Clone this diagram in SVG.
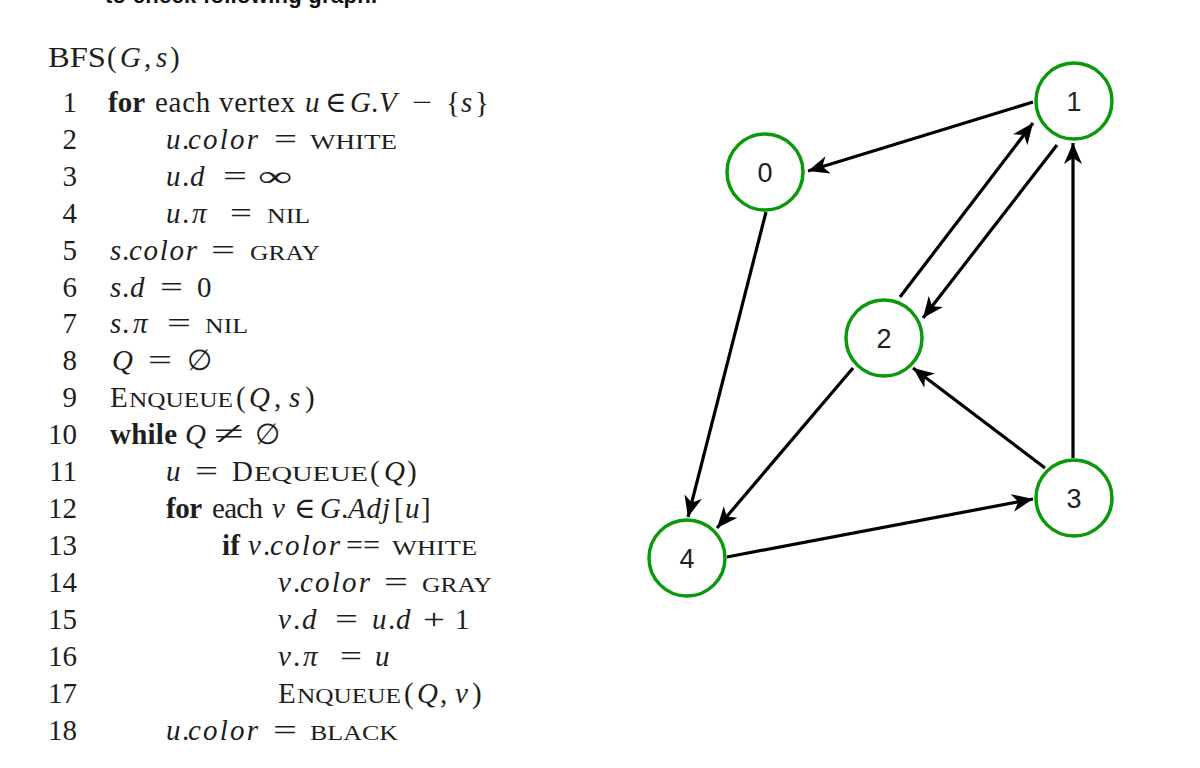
<svg xmlns="http://www.w3.org/2000/svg" width="1200" height="768" viewBox="0 0 1200 768">
<style>
.c{font-family:"Liberation Serif","DejaVu Serif",serif;font-size:29px;fill:#1e1e1e}
.n{text-anchor:end}
.i{font-style:italic}
.b{font-weight:bold}
.s{font-size:22px}
.node circle{fill:#fff;stroke:#0a990a;stroke-width:3.5}
.node text{font-family:"Liberation Sans",Arial,sans-serif;font-size:27px;fill:#222;text-anchor:middle}
.edges line{stroke:#000;stroke-width:3.2;marker-end:url(#arr)}
</style>
<defs>
<marker id="arr" markerUnits="userSpaceOnUse" markerWidth="22" markerHeight="20" refX="21" refY="10" orient="auto">
<path d="M0,1 L21,10 L0,19 L6,10 Z" fill="#000"/>
</marker>
</defs>
<rect width="1200" height="768" fill="#fff"/>
<text x="105" y="3" textLength="272" style="font-family:'Liberation Sans',Arial,sans-serif;font-size:22px;font-weight:bold;fill:#111">to check following graph.</text>

<g id="pseudocode">
<text class="c" x="48" y="67" textLength="58" lengthAdjust="spacingAndGlyphs">BFS</text>
<text class="c" x="107" y="67">(</text>
<text class="c i" x="120" y="67">G</text>
<text class="c" x="144" y="67">,</text>
<text class="c i" x="156" y="67">s</text>
<text class="c" x="170" y="67">)</text>

<text class="c n" x="77" y="112">1</text>
<text class="c b" x="108" y="112" textLength="37">for</text>
<text class="c" x="155" y="112" textLength="140">each vertex</text>
<text class="c i" x="305" y="112">u</text>
<text class="c" x="325" y="112">∈</text>
<text class="c i" x="350" y="112">G</text>
<text class="c" x="371" y="112">.</text>
<text class="c i" x="379" y="112">V</text>
<text class="c" x="412" y="112" textLength="20" lengthAdjust="spacingAndGlyphs">−</text>
<text class="c" x="446" y="112">{</text>
<text class="c i" x="461" y="112">s</text>
<text class="c" x="475" y="112">}</text>

<text class="c n" x="77" y="149">2</text>
<text class="c i" x="166" y="149">u</text>
<text class="c" x="182" y="149">.</text>
<text class="c i" x="188" y="149" textLength="70">color</text>
<text class="c" x="274" y="149" textLength="23" lengthAdjust="spacingAndGlyphs">=</text>
<text class="c s" x="310" y="149" textLength="87" lengthAdjust="spacingAndGlyphs">WHITE</text>

<text class="c n" x="77" y="186">3</text>
<text class="c i" x="166" y="186">u</text>
<text class="c" x="182" y="186">.</text>
<text class="c i" x="190" y="186">d</text>
<text class="c" x="223" y="186" textLength="24" lengthAdjust="spacingAndGlyphs">=</text>
<text class="c" x="258" y="186" textLength="34" lengthAdjust="spacingAndGlyphs">∞</text>

<text class="c n" x="77" y="223">4</text>
<text class="c i" x="166" y="223">u</text>
<text class="c" x="182" y="223">.</text>
<text class="c i" x="192" y="223">π</text>
<text class="c" x="230" y="223" textLength="22" lengthAdjust="spacingAndGlyphs">=</text>
<text class="c s" x="267" y="223" textLength="43" lengthAdjust="spacingAndGlyphs">NIL</text>

<text class="c n" x="77" y="260">5</text>
<text class="c i" x="110" y="260">s</text>
<text class="c" x="122" y="260">.</text>
<text class="c i" x="129" y="260" textLength="68">color</text>
<text class="c" x="211" y="260" textLength="24" lengthAdjust="spacingAndGlyphs">=</text>
<text class="c s" x="250" y="260" textLength="70" lengthAdjust="spacingAndGlyphs">GRAY</text>

<text class="c n" x="77" y="297">6</text>
<text class="c i" x="110" y="297">s</text>
<text class="c" x="122" y="297">.</text>
<text class="c i" x="130" y="297">d</text>
<text class="c" x="160" y="297" textLength="23" lengthAdjust="spacingAndGlyphs">=</text>
<text class="c" x="197" y="297">0</text>

<text class="c n" x="77" y="333">7</text>
<text class="c i" x="110" y="333">s</text>
<text class="c" x="122" y="333">.</text>
<text class="c i" x="133" y="333">π</text>
<text class="c" x="167" y="333" textLength="24" lengthAdjust="spacingAndGlyphs">=</text>
<text class="c s" x="205" y="333" textLength="43" lengthAdjust="spacingAndGlyphs">NIL</text>

<text class="c n" x="77" y="370">8</text>
<text class="c i" x="112" y="370">Q</text>
<text class="c" x="148" y="370" textLength="24" lengthAdjust="spacingAndGlyphs">=</text>
<text class="c" x="187" y="370">∅</text>

<text class="c n" x="77" y="407">9</text>
<text class="c" x="110" y="407">E</text>
<text class="c s" x="129" y="407" textLength="104" lengthAdjust="spacingAndGlyphs">NQUEUE</text>
<text class="c" x="236" y="407">(</text>
<text class="c i" x="249" y="407">Q</text>
<text class="c" x="274" y="407">,</text>
<text class="c i" x="289" y="407">s</text>
<text class="c" x="305" y="407">)</text>

<text class="c n" x="77" y="444">10</text>
<text class="c b" x="110" y="444" textLength="67">while</text>
<text class="c i" x="185" y="444">Q</text>
<text class="c" x="214" y="444" textLength="30" lengthAdjust="spacingAndGlyphs" style="font-size:32px">≠</text>
<text class="c" x="255" y="444">∅</text>

<text class="c n" x="77" y="481">11</text>
<text class="c i" x="166" y="481">u</text>
<text class="c" x="195" y="481" textLength="23" lengthAdjust="spacingAndGlyphs">=</text>
<text class="c" x="232" y="481">D</text>
<text class="c s" x="254" y="481" textLength="114" lengthAdjust="spacingAndGlyphs">EQUEUE</text>
<text class="c" x="370" y="481">(</text>
<text class="c i" x="384" y="481">Q</text>
<text class="c" x="407" y="481">)</text>

<text class="c n" x="77" y="518">12</text>
<text class="c b" x="166" y="518" textLength="36">for</text>
<text class="c" x="212" y="518" textLength="51">each</text>
<text class="c i" x="272" y="518">v</text>
<text class="c" x="294" y="518">∈</text>
<text class="c i" x="320" y="518">G</text>
<text class="c" x="341" y="518">.</text>
<text class="c i" x="348" y="518" textLength="42">Adj</text>
<text class="c" x="394" y="518">[</text>
<text class="c i" x="405" y="518">u</text>
<text class="c" x="421" y="518">]</text>

<text class="c n" x="77" y="555">13</text>
<text class="c b" x="222" y="555" textLength="18">if</text>
<text class="c i" x="248" y="555">v</text>
<text class="c" x="263" y="555">.</text>
<text class="c i" x="270" y="555" textLength="70">color</text>
<text class="c" x="346" y="555" textLength="34" lengthAdjust="spacingAndGlyphs">==</text>
<text class="c s" x="392" y="555" textLength="85" lengthAdjust="spacingAndGlyphs">WHITE</text>

<text class="c n" x="77" y="592">14</text>
<text class="c i" x="278" y="592">v</text>
<text class="c" x="293" y="592">.</text>
<text class="c i" x="300" y="592" textLength="70">color</text>
<text class="c" x="384" y="592" textLength="24" lengthAdjust="spacingAndGlyphs">=</text>
<text class="c s" x="422" y="592" textLength="70" lengthAdjust="spacingAndGlyphs">GRAY</text>

<text class="c n" x="77" y="629">15</text>
<text class="c i" x="278" y="629">v</text>
<text class="c" x="293" y="629">.</text>
<text class="c i" x="302" y="629">d</text>
<text class="c" x="335" y="629" textLength="23" lengthAdjust="spacingAndGlyphs">=</text>
<text class="c i" x="372" y="629">u</text>
<text class="c" x="388" y="629">.</text>
<text class="c i" x="396" y="629">d</text>
<text class="c" x="423" y="629" textLength="22" lengthAdjust="spacingAndGlyphs">+</text>
<text class="c" x="455" y="629">1</text>

<text class="c n" x="77" y="666">16</text>
<text class="c i" x="278" y="666">v</text>
<text class="c" x="293" y="666">.</text>
<text class="c i" x="303" y="666">π</text>
<text class="c" x="340" y="666" textLength="22" lengthAdjust="spacingAndGlyphs">=</text>
<text class="c i" x="375" y="666">u</text>

<text class="c n" x="77" y="703">17</text>
<text class="c" x="278" y="703">E</text>
<text class="c s" x="297" y="703" textLength="104" lengthAdjust="spacingAndGlyphs">NQUEUE</text>
<text class="c" x="404" y="703">(</text>
<text class="c i" x="417" y="703">Q</text>
<text class="c" x="440" y="703">,</text>
<text class="c i" x="455" y="703">v</text>
<text class="c" x="472" y="703">)</text>

<text class="c n" x="77" y="740">18</text>
<text class="c i" x="166" y="740">u</text>
<text class="c" x="182" y="740">.</text>
<text class="c i" x="188" y="740" textLength="70">color</text>
<text class="c" x="273" y="740" textLength="24" lengthAdjust="spacingAndGlyphs">=</text>
<text class="c s" x="310" y="740" textLength="88" lengthAdjust="spacingAndGlyphs">BLACK</text>
</g>

<g id="edges" class="edges">
<line x1="1033" y1="102" x2="808" y2="171"/>
<line x1="766" y1="212" x2="688" y2="517"/>
<line x1="900" y1="297" x2="1033" y2="123"/>
<line x1="1057" y1="145" x2="923" y2="318"/>
<line x1="1073" y1="458" x2="1073" y2="143"/>
<line x1="1045" y1="468" x2="913" y2="368"/>
<line x1="853" y1="368" x2="717" y2="528"/>
<line x1="727" y1="557" x2="1033" y2="499"/>
</g>

<g id="node0" class="node"><circle cx="765" cy="172" r="38"/><text x="765" y="182">0</text></g>
<g id="node1" class="node"><circle cx="1074" cy="101" r="38"/><text x="1074" y="111">1</text></g>
<g id="node2" class="node"><circle cx="884" cy="338" r="38"/><text x="884" y="348">2</text></g>
<g id="node3" class="node"><circle cx="1074" cy="498" r="38"/><text x="1074" y="508">3</text></g>
<g id="node4" class="node"><circle cx="687" cy="558" r="38"/><text x="687" y="568">4</text></g>
</svg>
